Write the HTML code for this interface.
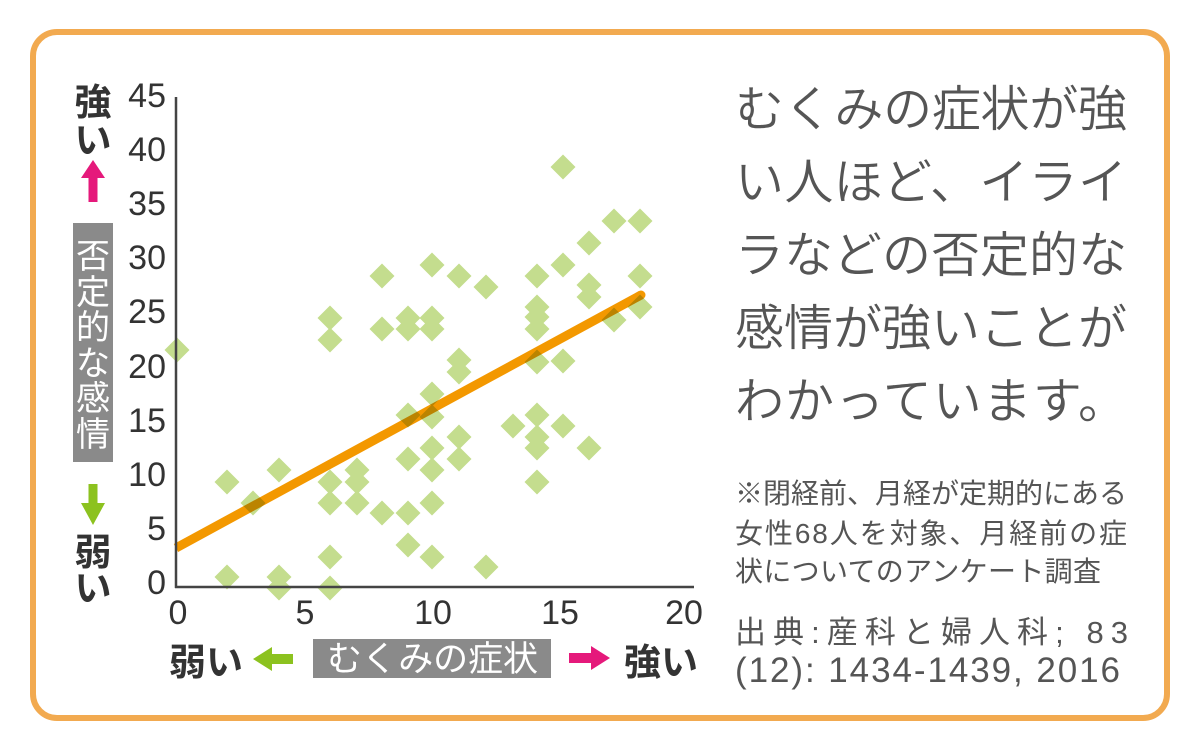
<!DOCTYPE html>
<html><head><meta charset="utf-8"><style>
html,body{margin:0;padding:0;background:#fff;}
svg{display:block;}
</style></head><body>
<svg width="1200" height="750" viewBox="0 0 1200 750" xmlns="http://www.w3.org/2000/svg">
<rect x="0" y="0" width="1200" height="750" fill="#fff"/>
<rect x="33" y="32" width="1134" height="686" rx="24" ry="24" fill="#fff" stroke="#f2aa50" stroke-width="6"/>

<path fill="#c4dd8e" d="
M177,337.5l12.5,12.5l-12.5,12.5l-12.5,-12.5z
M227,469.5l12.5,12.5l-12.5,12.5l-12.5,-12.5z
M227,564.5l12.5,12.5l-12.5,12.5l-12.5,-12.5z
M253,490.5l12.5,12.5l-12.5,12.5l-12.5,-12.5z
M279,457.5l12.5,12.5l-12.5,12.5l-12.5,-12.5z
M279,564.5l12.5,12.5l-12.5,12.5l-12.5,-12.5z
M279,575.5l12.5,12.5l-12.5,12.5l-12.5,-12.5z
M330,305.5l12.5,12.5l-12.5,12.5l-12.5,-12.5z
M330,327.5l12.5,12.5l-12.5,12.5l-12.5,-12.5z
M330,469.5l12.5,12.5l-12.5,12.5l-12.5,-12.5z
M330,490.5l12.5,12.5l-12.5,12.5l-12.5,-12.5z
M330,544.5l12.5,12.5l-12.5,12.5l-12.5,-12.5z
M330,575.5l12.5,12.5l-12.5,12.5l-12.5,-12.5z
M357,457.5l12.5,12.5l-12.5,12.5l-12.5,-12.5z
M357,469.5l12.5,12.5l-12.5,12.5l-12.5,-12.5z
M357,490.5l12.5,12.5l-12.5,12.5l-12.5,-12.5z
M382,263.5l12.5,12.5l-12.5,12.5l-12.5,-12.5z
M382,316.5l12.5,12.5l-12.5,12.5l-12.5,-12.5z
M382,500.5l12.5,12.5l-12.5,12.5l-12.5,-12.5z
M408,305.5l12.5,12.5l-12.5,12.5l-12.5,-12.5z
M408,316.5l12.5,12.5l-12.5,12.5l-12.5,-12.5z
M408,402.5l12.5,12.5l-12.5,12.5l-12.5,-12.5z
M408,446.5l12.5,12.5l-12.5,12.5l-12.5,-12.5z
M408,500.5l12.5,12.5l-12.5,12.5l-12.5,-12.5z
M408,532.5l12.5,12.5l-12.5,12.5l-12.5,-12.5z
M432,252.5l12.5,12.5l-12.5,12.5l-12.5,-12.5z
M432,305.5l12.5,12.5l-12.5,12.5l-12.5,-12.5z
M432,316.5l12.5,12.5l-12.5,12.5l-12.5,-12.5z
M432,381.5l12.5,12.5l-12.5,12.5l-12.5,-12.5z
M432,404.5l12.5,12.5l-12.5,12.5l-12.5,-12.5z
M432,435.5l12.5,12.5l-12.5,12.5l-12.5,-12.5z
M432,457.5l12.5,12.5l-12.5,12.5l-12.5,-12.5z
M432,490.5l12.5,12.5l-12.5,12.5l-12.5,-12.5z
M432,544.5l12.5,12.5l-12.5,12.5l-12.5,-12.5z
M459,263.5l12.5,12.5l-12.5,12.5l-12.5,-12.5z
M459,347.5l12.5,12.5l-12.5,12.5l-12.5,-12.5z
M459,359.5l12.5,12.5l-12.5,12.5l-12.5,-12.5z
M459,424.5l12.5,12.5l-12.5,12.5l-12.5,-12.5z
M459,446.5l12.5,12.5l-12.5,12.5l-12.5,-12.5z
M486,274.5l12.5,12.5l-12.5,12.5l-12.5,-12.5z
M486,554.5l12.5,12.5l-12.5,12.5l-12.5,-12.5z
M513,413.5l12.5,12.5l-12.5,12.5l-12.5,-12.5z
M537,263.5l12.5,12.5l-12.5,12.5l-12.5,-12.5z
M537,294.5l12.5,12.5l-12.5,12.5l-12.5,-12.5z
M537,304.5l12.5,12.5l-12.5,12.5l-12.5,-12.5z
M537,316.5l12.5,12.5l-12.5,12.5l-12.5,-12.5z
M537,349.5l12.5,12.5l-12.5,12.5l-12.5,-12.5z
M537,402.5l12.5,12.5l-12.5,12.5l-12.5,-12.5z
M537,424.5l12.5,12.5l-12.5,12.5l-12.5,-12.5z
M537,435.5l12.5,12.5l-12.5,12.5l-12.5,-12.5z
M537,469.5l12.5,12.5l-12.5,12.5l-12.5,-12.5z
M563,154.5l12.5,12.5l-12.5,12.5l-12.5,-12.5z
M563,252.5l12.5,12.5l-12.5,12.5l-12.5,-12.5z
M563,348.5l12.5,12.5l-12.5,12.5l-12.5,-12.5z
M563,413.5l12.5,12.5l-12.5,12.5l-12.5,-12.5z
M589,230.5l12.5,12.5l-12.5,12.5l-12.5,-12.5z
M589,272.5l12.5,12.5l-12.5,12.5l-12.5,-12.5z
M589,284.5l12.5,12.5l-12.5,12.5l-12.5,-12.5z
M589,435.5l12.5,12.5l-12.5,12.5l-12.5,-12.5z
M614,208.5l12.5,12.5l-12.5,12.5l-12.5,-12.5z
M614,307.5l12.5,12.5l-12.5,12.5l-12.5,-12.5z
M640,208.5l12.5,12.5l-12.5,12.5l-12.5,-12.5z
M640,263.5l12.5,12.5l-12.5,12.5l-12.5,-12.5z
M640,294.5l12.5,12.5l-12.5,12.5l-12.5,-12.5z
"/>

<g style="mix-blend-mode:multiply">
<line x1="176" y1="548" x2="641" y2="295" stroke="#f39800" stroke-width="9" stroke-linecap="butt"/>
<circle cx="641" cy="295" r="4.5" fill="#f39800"/>
</g>

<line x1="176" y1="97" x2="176" y2="588" stroke="#444" stroke-width="2.5"/>
<line x1="175" y1="587" x2="694" y2="587" stroke="#444" stroke-width="2.5"/>

<g font-family="Liberation Sans, sans-serif" font-size="34" fill="#333" text-anchor="end">
<text x="166" y="107">45</text>
<text x="166" y="161">40</text>
<text x="166" y="215">35</text>
<text x="166" y="269">30</text>
<text x="166" y="323">25</text>
<text x="166" y="378">20</text>
<text x="166" y="432">15</text>
<text x="166" y="486">10</text>
<text x="166" y="540">5</text>
<text x="166" y="594">0</text>
</g>
<g font-family="Liberation Sans, sans-serif" font-size="34" fill="#333" text-anchor="middle">
<text x="178" y="624">0</text>
<text x="305" y="624">5</text>
<text x="433" y="624">10</text>
<text x="560" y="624">15</text>
<text x="684" y="624">20</text>
</g>

<g font-family="Liberation Sans, Noto Sans CJK JP, sans-serif" font-size="37" font-weight="bold" fill="#333" text-anchor="middle">
<text x="93" y="115">強</text>
<text x="93" y="153">い</text>
<text x="93" y="565">弱</text>
<text x="93" y="601">い</text>
</g>
<polygon points="93,160 105,178 97.5,178 97.5,202 88.5,202 88.5,178 81,178" fill="#e5197b"/>
<rect x="73" y="223" width="40" height="239" fill="#8a8a8a"/>
<g font-family="Liberation Sans, Noto Sans CJK JP, sans-serif" font-size="34" fill="#fff" text-anchor="middle">
<text x="93" y="268">否</text>
<text x="93" y="304">定</text>
<text x="93" y="339">的</text>
<text x="93" y="375">な</text>
<text x="93" y="410">感</text>
<text x="93" y="446">情</text>
</g>
<polygon points="88.5,484 97.5,484 97.5,503 105,503 93,525 81,503 88.5,503" fill="#8cc21f"/>

<g font-family="Liberation Sans, Noto Sans CJK JP, sans-serif" font-size="37" font-weight="bold" fill="#333">
<text x="169" y="675">弱い</text>
<text x="624" y="675">強い</text>
</g>
<polygon points="253,659 272,647 272,654 293,654 293,664 272,664 272,671" fill="#8cc21f"/>
<rect x="313" y="639" width="238" height="39" fill="#8a8a8a"/>
<text x="327" y="671" font-family="Liberation Sans, Noto Sans CJK JP, sans-serif" font-size="35" fill="#fff" textLength="211" lengthAdjust="spacing">むくみの症状</text>
<polygon points="610,658 591,646 591,653 569,653 569,663 591,663 591,670" fill="#e5197b"/>

<g font-family="Liberation Sans, Noto Sans CJK JP, sans-serif" font-size="49" font-weight="350" fill="#555">
<text x="735" y="126" textLength="392" lengthAdjust="spacing">むくみの症状が強</text>
<text x="735" y="199" textLength="392" lengthAdjust="spacing">い人ほど、イライ</text>
<text x="735" y="272" textLength="392" lengthAdjust="spacing">ラなどの否定的な</text>
<text x="735" y="345" textLength="392" lengthAdjust="spacing">感情が強いことが</text>
<text x="735" y="418" textLength="392" lengthAdjust="spacing">わかっています。</text>
</g>

<g font-family="Liberation Sans, Noto Sans CJK JP, sans-serif" font-size="28" fill="#555">
<text x="735" y="503" textLength="392" lengthAdjust="spacing">※閉経前、月経が定期的にある</text>
<text x="735" y="543" textLength="392" lengthAdjust="spacing">女性68人を対象、月経前の症</text>
<text x="735" y="581" textLength="366" lengthAdjust="spacing">状についてのアンケート調査</text>
</g>
<g font-family="Liberation Sans, Noto Sans CJK JP, sans-serif" fill="#555">
<text x="735" y="643" font-size="31" textLength="393" lengthAdjust="spacing">出典:産科と婦人科; 83</text>
<text x="735" y="682" font-size="35" textLength="385" lengthAdjust="spacing">(12): 1434-1439, 2016</text>
</g>
</svg>
</body></html>
